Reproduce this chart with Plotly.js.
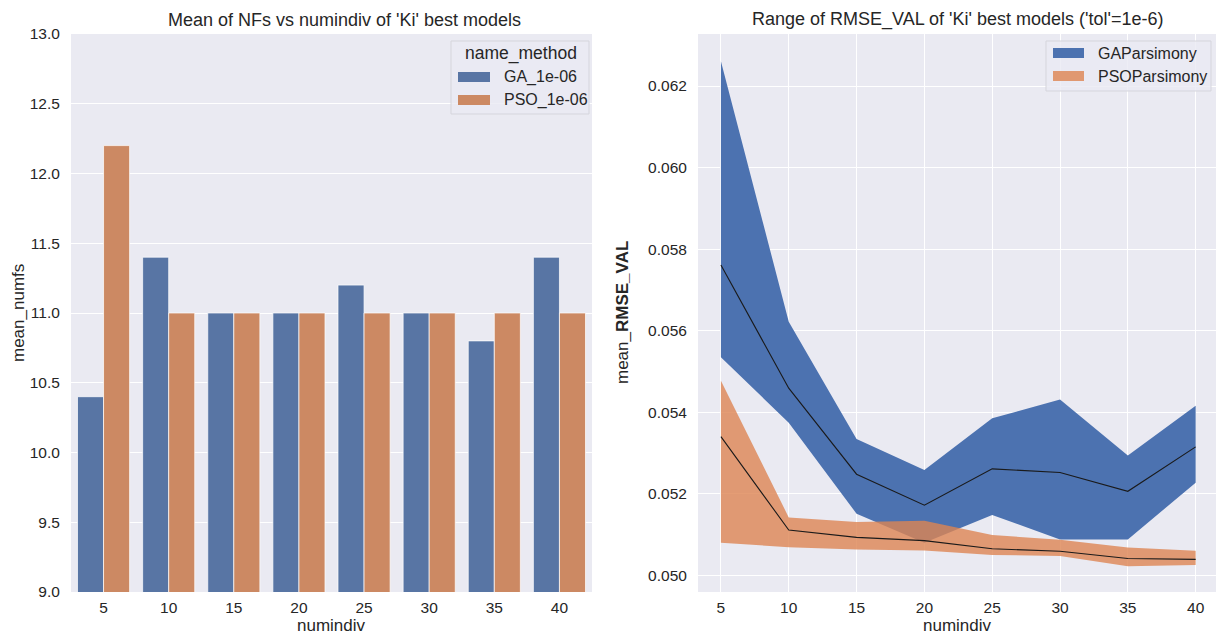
<!DOCTYPE html>
<html>
<head>
<meta charset="utf-8">
<script src="https://cdn.plot.ly/plotly-3.0.1.min.js"></script>
<style>
html,body{margin:0;padding:0;background:#fff;}
#chart{width:1216px;height:636px;}
</style>
</head>
<body>
<div id="chart"></div>
<script>
// ---------- data ----------
const numindivCats = ["5","10","15","20","25","30","35","40"];
const gaMeanNumfs  = [10.4, 11.4, 11.0, 11.0, 11.2, 11.0, 10.8, 11.4];
const psoMeanNumfs = [12.2, 11.0, 11.0, 11.0, 11.0, 11.0, 11.0, 11.0];

const numindiv = [5, 10, 15, 20, 25, 30, 35, 40];
const gaRmseLow   = [0.05535, 0.05374, 0.05151, 0.05080, 0.05148, 0.05088, 0.05088, 0.05227];
const gaRmseHigh  = [0.06261, 0.05622, 0.05334, 0.05258, 0.05385, 0.05431, 0.05294, 0.05416];
const gaRmseMean  = [0.05761, 0.05459, 0.05248, 0.05172, 0.05261, 0.05252, 0.05206, 0.05315];
const psoRmseLow  = [0.05080, 0.05069, 0.05063, 0.05061, 0.05050, 0.05047, 0.05022, 0.05025];
const psoRmseHigh = [0.05477, 0.05142, 0.05131, 0.05134, 0.05099, 0.05087, 0.05068, 0.05060];
const psoRmseMean = [0.05340, 0.05111, 0.05093, 0.05085, 0.05065, 0.05059, 0.05041, 0.05039];

const leftTicks  = [9.0, 9.5, 10.0, 10.5, 11.0, 11.5, 12.0, 12.5, 13.0];
const rightTicks = [0.050, 0.052, 0.054, 0.056, 0.058, 0.060, 0.062];

// ---------- style ----------
const W = 1216, H = 636;
const FONT = "Liberation Sans, Arial, sans-serif";
const TXT = "#262626";
const BG = "#eaeaf2";
const barBlue = "#5875a4", barOrange = "#cc8963";
const fillBlue = "#4c72b0", fillOrange = "rgba(221,132,82,0.8)";
const TICK = 15.5, LAB = 17, TTL = 18, LEG = 16, LEGT = 17.5;

const px = x => x / W;
const py = y => 1 - y / H;

const traces = [
  {type:"bar", x:numindivCats, y:gaMeanNumfs, name:"GA_1e-06", xaxis:"x", yaxis:"y",
   marker:{color:barBlue, line:{color:"rgba(255,255,255,0.7)", width:1}}, showlegend:false},
  {type:"bar", x:numindivCats, y:psoMeanNumfs, name:"PSO_1e-06", xaxis:"x", yaxis:"y",
   marker:{color:barOrange, line:{color:"rgba(255,255,255,0.7)", width:1}}, showlegend:false},

  {type:"scatter", mode:"lines", x:numindiv, y:gaRmseLow, xaxis:"x2", yaxis:"y2",
   line:{width:0, color:fillBlue}, showlegend:false, hoverinfo:"skip"},
  {type:"scatter", mode:"lines", x:numindiv, y:gaRmseHigh, xaxis:"x2", yaxis:"y2",
   fill:"tonexty", fillcolor:fillBlue, line:{width:0, color:fillBlue}, name:"GAParsimony", showlegend:false},
  {type:"scatter", mode:"lines", x:numindiv, y:psoRmseLow, xaxis:"x2", yaxis:"y2",
   line:{width:0, color:fillOrange}, showlegend:false, hoverinfo:"skip"},
  {type:"scatter", mode:"lines", x:numindiv, y:psoRmseHigh, xaxis:"x2", yaxis:"y2",
   fill:"tonexty", fillcolor:fillOrange, line:{width:0, color:fillOrange}, name:"PSOParsimony", showlegend:false},
  {type:"scatter", mode:"lines", x:numindiv, y:gaRmseMean, xaxis:"x2", yaxis:"y2",
   line:{width:1.1, color:"#1a1a1a"}, showlegend:false},
  {type:"scatter", mode:"lines", x:numindiv, y:psoRmseMean, xaxis:"x2", yaxis:"y2",
   line:{width:1.1, color:"#1a1a1a"}, showlegend:false}
];

const axisCommon = {
  showline:false, zeroline:false, gridcolor:"#ffffff", gridwidth:1,
  tickfont:{family:FONT, size:TICK, color:TXT},
  ticks:"outside", ticklen:7, tickcolor:"rgba(0,0,0,0)"
};

const layout = {
  width:W, height:H,
  margin:{l:0, r:0, t:0, b:0},
  paper_bgcolor:"#ffffff", plot_bgcolor:BG,
  font:{family:FONT, color:TXT},
  barmode:"group", bargap:0.2, bargroupgap:0,
  xaxis:Object.assign({}, axisCommon, {
    domain:[px(71), px(592)], anchor:"y", type:"category",
    range:[-0.5, 7.5], showgrid:false, ticklen:1
  }),
  yaxis:Object.assign({}, axisCommon, {
    domain:[py(592), py(34)], anchor:"x",
    range:[9, 13], tickvals:leftTicks, tickformat:".1f"
  }),
  xaxis2:Object.assign({}, axisCommon, {
    domain:[px(698), 1], anchor:"y2",
    range:[3.31, 41.5], tickvals:numindiv, showgrid:true, ticklen:1
  }),
  yaxis2:Object.assign({}, axisCommon, {
    domain:[py(592), py(34)], anchor:"x2",
    range:[0.04959, 0.063277], tickvals:rightTicks, tickformat:".3f"
  }),
  shapes:[
    // left legend box
    {type:"rect", xref:"paper", yref:"paper", x0:px(451), x1:px(589), y0:py(114), y1:py(41),
     fillcolor:"rgba(234,234,242,0.8)", line:{color:"#d5d5dc", width:1}},
    {type:"rect", xref:"paper", yref:"paper", x0:px(458), x1:px(490), y0:py(82), y1:py(72),
     fillcolor:barBlue, line:{width:0}},
    {type:"rect", xref:"paper", yref:"paper", x0:px(458), x1:px(490), y0:py(105), y1:py(95),
     fillcolor:barOrange, line:{width:0}},
    // right legend box
    {type:"rect", xref:"paper", yref:"paper", x0:px(1046), x1:px(1211), y0:py(91), y1:py(41),
     fillcolor:"rgba(234,234,242,0.8)", line:{color:"#d5d5dc", width:1}},
    {type:"rect", xref:"paper", yref:"paper", x0:px(1053), x1:px(1084), y0:py(58), y1:py(48),
     fillcolor:fillBlue, line:{width:0}},
    {type:"rect", xref:"paper", yref:"paper", x0:px(1053), x1:px(1084), y0:py(81), y1:py(71),
     fillcolor:"#e09871", line:{width:0}}
  ],
  annotations:[
    {text:"Mean of NFs vs numindiv of 'Ki' best models", xref:"paper", yref:"paper",
     x:px(344), y:py(20), xanchor:"center", yanchor:"middle", showarrow:false,
     font:{family:FONT, size:TTL, color:TXT}},
    {text:"Range of RMSE_VAL of 'Ki' best models ('tol'=1e-6)", xref:"paper", yref:"paper",
     x:px(957), y:py(20), xanchor:"center", yanchor:"middle", showarrow:false,
     font:{family:FONT, size:TTL, color:TXT}},
    {text:"numindiv", xref:"paper", yref:"paper", x:px(331), y:0, xanchor:"center", yanchor:"bottom",
     borderpad:0, showarrow:false, font:{family:FONT, size:LAB, color:TXT}},
    {text:"numindiv", xref:"paper", yref:"paper", x:px(957), y:0, xanchor:"center", yanchor:"bottom",
     borderpad:0, showarrow:false, font:{family:FONT, size:LAB, color:TXT}},
    {text:"mean_numfs", xref:"paper", yref:"paper", x:px(18), y:py(313), xanchor:"center", yanchor:"middle",
     textangle:-90, showarrow:false, font:{family:FONT, size:LAB, color:TXT}},
    {text:"mean_<b>RMSE_VAL</b>", xref:"paper", yref:"paper", x:px(622), y:py(313), xanchor:"center", yanchor:"middle",
     textangle:-90, showarrow:false, font:{family:FONT, size:LAB, color:TXT}},
    // legend texts
    {text:"name_method", xref:"paper", yref:"paper", x:px(521), y:py(54), xanchor:"center", yanchor:"middle",
     showarrow:false, font:{family:FONT, size:LEGT, color:TXT}},
    {text:"GA_1e-06", xref:"paper", yref:"paper", x:px(502), y:py(77), xanchor:"left", yanchor:"middle",
     showarrow:false, font:{family:FONT, size:LEG, color:TXT}},
    {text:"PSO_1e-06", xref:"paper", yref:"paper", x:px(502), y:py(100), xanchor:"left", yanchor:"middle",
     showarrow:false, font:{family:FONT, size:LEG, color:TXT}},
    {text:"GAParsimony", xref:"paper", yref:"paper", x:px(1096), y:py(53), xanchor:"left", yanchor:"middle",
     showarrow:false, font:{family:FONT, size:LEG, color:TXT}},
    {text:"PSOParsimony", xref:"paper", yref:"paper", x:px(1096), y:py(76.5), xanchor:"left", yanchor:"middle",
     showarrow:false, font:{family:FONT, size:LEG, color:TXT}}
  ]
};

Plotly.newPlot("chart", traces, layout, {displayModeBar:false, staticPlot:true});
</script>
</body>
</html>
